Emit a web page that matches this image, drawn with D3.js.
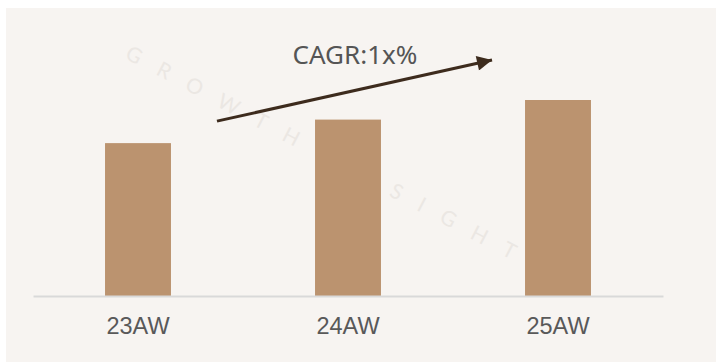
<!DOCTYPE html>
<html>
<head>
<meta charset="utf-8">
<script src="https://cdn.jsdelivr.net/npm/d3@7"></script>
<style>
  html, body { margin: 0; padding: 0; background: #ffffff; }
  svg { display: block; }
</style>
</head>
<body>
<svg id="chart" width="716" height="362"></svg>
<script>
// Seasons and their sales index
const seasons = ["23AW", "24AW", "25AW"];
const values = [78, 90, 100];
const cagrLabel = "CAGR:1x%";
const watermark = "GROWTH INSIGHT";

const W = 716, H = 362;
const svg = d3.select("#chart");

// panel background
svg.append("rect")
  .attr("x", 6).attr("y", 8)
  .attr("width", W - 6).attr("height", H - 8)
  .attr("fill", "#f7f4f1");

// faint brand mark behind the plot
svg.append("text")
  .attr("x", 124).attr("y", 58)
  .attr("transform", "rotate(27.5,124,58)")
  .attr("font-family", "Lato, 'Open Sans', sans-serif")
  .attr("font-size", 21)
  .attr("letter-spacing", 19.5)
  .attr("fill", "#ebe7e3")
  .text(watermark);

const x = d3.scaleBand()
  .domain(seasons)
  .range([33, 663])
  .paddingInner(0.686)
  .paddingOuter(0.343);

const y = d3.scaleLinear()
  .domain([0, 100])
  .range([296, 100]);

// bars
svg.append("g").selectAll("rect")
  .data(seasons)
  .join("rect")
  .attr("x", d => x(d))
  .attr("y", (d, i) => y(values[i]))
  .attr("width", x.bandwidth())
  .attr("height", (d, i) => y(0) - y(values[i]))
  .attr("fill", "#bb936f");

// category axis
const axis = svg.append("g")
  .attr("transform", `translate(0,${y(0)})`)
  .call(d3.axisBottom(x).tickSize(0).tickSizeOuter(0).tickPadding(21));
axis.attr("font-family", null);
axis.select(".domain")
  .attr("stroke", "#d9d9d9")
  .attr("stroke-width", 2);
axis.selectAll("text")
  .style("font-family", "Arial, 'Liberation Sans', sans-serif")
  .attr("font-size", 23.5)
  .attr("fill", "#595959");

// growth arrow, anchored to the first and last bars
const x0 = x(seasons[0]) + x.bandwidth() + 46;
const y0 = y(values[0]) - 22;
const x1 = x(seasons[seasons.length - 1]) - 33;
const y1 = y(values[values.length - 1]) - 40;

svg.append("defs").append("marker")
  .attr("id", "head")
  .attr("viewBox", "0 0 10 10")
  .attr("refX", 10).attr("refY", 5)
  .attr("markerUnits", "userSpaceOnUse")
  .attr("markerWidth", 19).attr("markerHeight", 15)
  .attr("orient", "auto")
  .append("path")
  .attr("d", "M0,0 L10,5 L0,10 Z")
  .attr("fill", "#3d2b1d");

svg.append("line")
  .attr("x1", x0).attr("y1", y0)
  .attr("x2", x1).attr("y2", y1)
  .attr("stroke", "#3d2b1d")
  .attr("stroke-width", 3)
  .attr("marker-end", "url(#head)");

svg.append("text")
  .attr("x", 355).attr("y", 64)
  .attr("text-anchor", "middle")
  .attr("font-family", "'Noto Sans', 'Open Sans', sans-serif")
  .attr("font-size", 26)
  .attr("fill", "#555555")
  .text(cagrLabel);
</script>
</body>
</html>
